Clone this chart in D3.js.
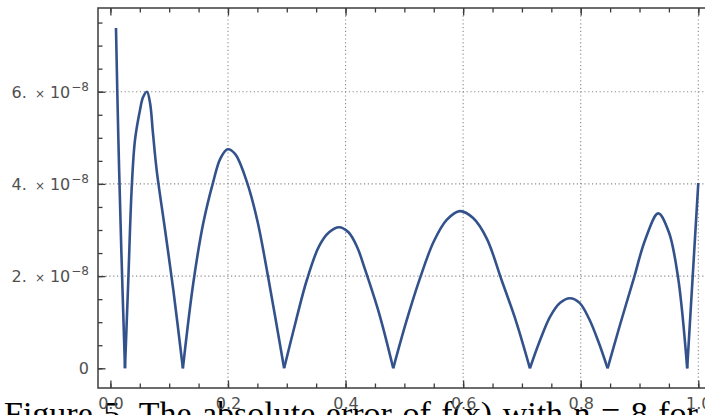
<!DOCTYPE html>
<html>
<head>
<meta charset="utf-8">
<script src="https://cdn.jsdelivr.net/npm/d3@7"></script>
<style>
  html, body { margin: 0; padding: 0; background: #fff; }
  svg { display: block; }
</style>
</head>
<body>
<svg id="chart" width="705" height="415"></svg>
<script>
// ---- data ----
const errX = [
  0.0095, 0.0135, 0.0185, 0.0248,
  0.0304, 0.0362, 0.0418, 0.0503, 0.0555, 0.0622, 0.0675, 0.0724, 0.0787, 0.093, 0.107, 0.1233,
  0.141, 0.158, 0.175, 0.187, 0.1995, 0.212, 0.232, 0.25, 0.268, 0.2955,
  0.315, 0.334, 0.355, 0.372, 0.389, 0.405, 0.42, 0.433, 0.458, 0.4811,
  0.503, 0.5265, 0.55, 0.572, 0.5946, 0.617, 0.64, 0.6655, 0.69, 0.7136,
  0.73, 0.748, 0.765, 0.7817, 0.798, 0.814, 0.83, 0.8457,
  0.867, 0.8892, 0.91, 0.9318, 0.95, 0.9658, 0.9811,
  0.9905, 1.0
];
const errY = [
  7.38e-8, 5.0e-8, 2.6e-8, 0,
  1.9e-8, 3.9e-8, 4.95e-8, 5.6e-8, 5.88e-8, 6.0e-8, 5.75e-8, 5.1e-8, 4.3e-8, 3.0e-8, 1.7e-8, 0,
  1.85e-8, 3.15e-8, 4.05e-8, 4.55e-8, 4.75e-8, 4.65e-8, 4.05e-8, 3.2e-8, 2.0e-8, 0,
  1.0e-8, 1.91e-8, 2.65e-8, 2.95e-8, 3.06e-8, 2.95e-8, 2.62e-8, 2.15e-8, 1.15e-8, 0,
  1.0e-8, 1.95e-8, 2.75e-8, 3.22e-8, 3.41e-8, 3.26e-8, 2.82e-8, 1.91e-8, 1.02e-8, 0,
  0.58e-8, 1.12e-8, 1.42e-8, 1.52e-8, 1.42e-8, 1.08e-8, 0.58e-8, 0,
  0.95e-8, 1.9e-8, 2.8e-8, 3.36e-8, 2.95e-8, 1.95e-8, 0,
  2.0e-8, 4.02e-8
];
const xMajorTicks = [0, 0.2, 0.4, 0.6, 0.8, 1.0];
const xTickLabels = ["0.0", "0.2", "0.4", "0.6", "0.8", "1.0"];
const xMinorTicks = d3.range(0, 21).map(i => i * 0.05);
const yMajorTicks = [0, 2e-8, 4e-8, 6e-8];
const yTickMantissas = ["0", "2.", "4.", "6."];
const yTickExponent = "\u22128";
const yMinorTicks = d3.range(0, 16).map(i => i * 0.5e-8);
const xGrid = [0.2, 0.4, 0.6, 0.8, 1.0];
const yGrid = [2e-8, 4e-8, 6e-8];
const caption = "Figure 5. The absolute error of f(x) with n = 8 for";

// ---- layout ----
const frame = { left: 98, top: 8, right: 711, bottom: 388 };
const x = d3.scaleLinear().domain([0, 1]).range([110.4, 698.3]);
const y = d3.scaleLinear().domain([0, 6e-8]).range([368.3, 91.7]);

const svg = d3.select("#chart");
const frameColor = "#3c3c3c";
const labelColor = "#505050";

// caption (cut by the bottom edge, as in the reference) — drawn first, beneath the labels
svg.append("text").attr("x", 4).attr("y", 425)
  .attr("font-family", "'Liberation Serif', 'Times New Roman', serif")
  .attr("font-size", 34).attr("fill", "#000").attr("word-spacing", 2)
  .text(caption);

// grid lines
const grid = svg.append("g").attr("stroke", "#8a8a8a").attr("stroke-width", 1.1)
  .attr("stroke-dasharray", "1.2,2.6").attr("fill", "none");
grid.selectAll("line.v").data(xGrid).join("line").attr("class", "v")
  .attr("x1", d => x(d)).attr("x2", d => x(d))
  .attr("y1", frame.top).attr("y2", frame.bottom);
grid.selectAll("line.h").data(yGrid).join("line").attr("class", "h")
  .attr("x1", frame.left).attr("x2", frame.right)
  .attr("y1", d => y(d)).attr("y2", d => y(d));

// curve, split into arcs at the zeros (sharp cusps)
const pts = errX.map((v, i) => [v, errY[i]]);
const arcs = [];
let cur = [];
pts.forEach(p => {
  cur.push(p);
  if (p[1] === 0 && cur.length > 1) { arcs.push(cur); cur = [p]; }
});
if (cur.length > 1) arcs.push(cur);
const line = d3.line().x(d => x(d[0])).y(d => y(d[1])).curve(d3.curveCatmullRom.alpha(0.5));
svg.append("g").selectAll("path").data(arcs).join("path")
  .attr("d", line).attr("fill", "none")
  .attr("stroke", "#33528c").attr("stroke-width", 2.6)
  .attr("stroke-linejoin", "round").attr("stroke-linecap", "butt");

// ticks via axes
function styleAxis(g) {
  g.select(".domain").remove();
  g.selectAll(".tick line").attr("stroke", frameColor).attr("stroke-width", 1.3);
}
svg.append("g").attr("transform", `translate(0,${frame.bottom})`)
  .call(d3.axisBottom(x).tickValues(xMinorTicks).tickSize(-4.5).tickFormat(""))
  .call(styleAxis);
const bottomMajor = svg.append("g").attr("transform", `translate(0,${frame.bottom})`)
  .call(d3.axisBottom(x).tickValues(xMajorTicks).tickSize(-7.5).tickPadding(9.5)
    .tickFormat((d, i) => xTickLabels[i]))
  .call(styleAxis);
bottomMajor.selectAll("text").attr("fill", labelColor)
  .attr("font-family", "'DejaVu Sans', sans-serif").attr("font-size", 16);
svg.append("g").attr("transform", `translate(0,${frame.top})`)
  .call(d3.axisTop(x).tickValues(xMinorTicks).tickSize(-4.5).tickFormat(""))
  .call(styleAxis);
svg.append("g").attr("transform", `translate(0,${frame.top})`)
  .call(d3.axisTop(x).tickValues(xMajorTicks).tickSize(-7.5).tickFormat(""))
  .call(styleAxis);
svg.append("g").attr("transform", `translate(${frame.left},0)`)
  .call(d3.axisLeft(y).tickValues(yMinorTicks).tickSize(-4.5).tickFormat(""))
  .call(styleAxis);
svg.append("g").attr("transform", `translate(${frame.left},0)`)
  .call(d3.axisLeft(y).tickValues(yMajorTicks).tickSize(-7.5).tickFormat(""))
  .call(styleAxis);

// y labels (mantissa × 10^-8)
const ylab = svg.append("g").attr("fill", labelColor)
  .attr("font-family", "'DejaVu Sans', sans-serif").attr("font-size", 16);
yMajorTicks.forEach((v, i) => {
  const t = ylab.append("text").attr("x", 89).attr("y", y(v) + 5.8).attr("text-anchor", "end");
  t.append("tspan").text(yTickMantissas[i]);
  if (v !== 0) {
    t.append("tspan").attr("font-size", 12).attr("dx", 8).text("\u00d7");
    t.append("tspan").attr("dx", 5).text("10");
    t.append("tspan").attr("font-size", 12).attr("dx", 1).attr("dy", -7).text(yTickExponent);
  }
});

// frame
svg.append("rect").attr("x", frame.left).attr("y", frame.top)
  .attr("width", frame.right - frame.left).attr("height", frame.bottom - frame.top)
  .attr("fill", "none").attr("stroke", frameColor).attr("stroke-width", 1.5);
</script>
</body>
</html>
